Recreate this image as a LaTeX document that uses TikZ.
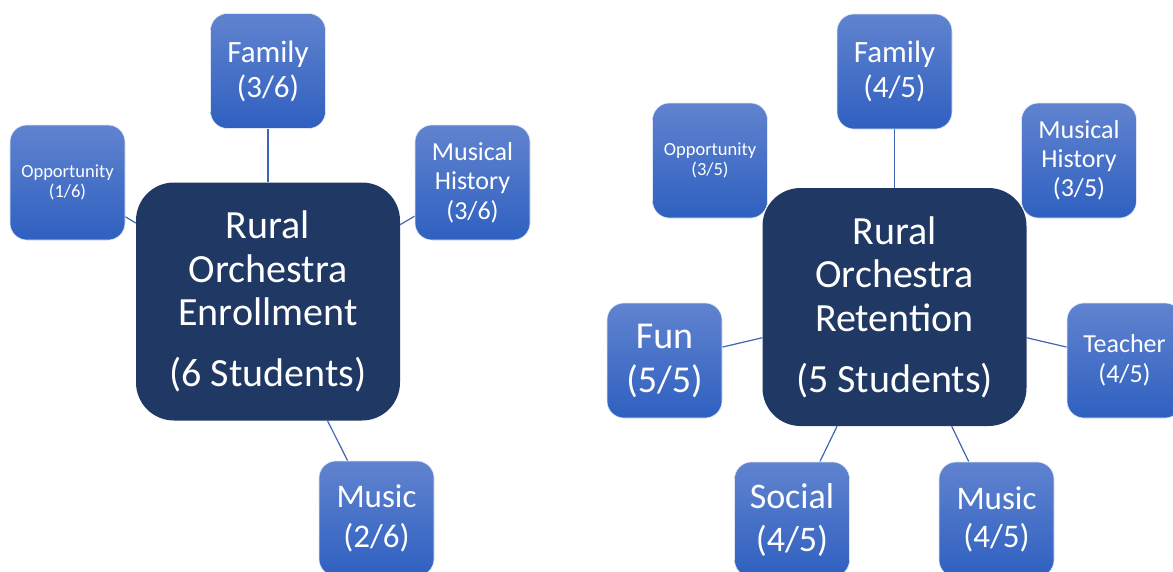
\documentclass[tikz,border=0pt]{standalone}
\usepackage{fontspec}
\setmainfont{Carlito}
\usetikzlibrary{backgrounds}
\definecolor{hubnavy}{RGB}{31,56,100}
\definecolor{leaftop}{RGB}{96,131,207}
\definecolor{leafbot}{RGB}{47,96,192}
\definecolor{linkblue}{RGB}{61,102,180}

\begin{document}
\begin{tikzpicture}[x=1pt,y=-1pt,
    hub/.style={fill=hubnavy,rounded corners=38pt,minimum width=264pt,minimum height=238pt,
        text=white,align=center,inner sep=0pt,font=\fontsize{40}{43.5}\selectfont},
    leaf/.style={top color=leaftop,bottom color=leafbot,draw=white!80!leaftop,line width=0.6pt,
        rounded corners=17pt,minimum width=115pt,minimum height=115pt,
        text=white,align=center,inner sep=0pt},
    link/.style={linkblue,line width=1.2pt}]
    \path[use as bounding box,clip] (0,0) rectangle (1173,571);

    % Enrollment map
    \node[hub] (enroll) at (268,301.5) {Rural\\Orchestra\\Enrollment\\[17.5pt](6 Students)};
    \node[leaf,font=\fontsize{31}{35}\selectfont] (fam1) at (268,71) {Family\\(3/6)};
    \node[leaf,font=\fontsize{18.5}{20}\selectfont] (opp1) at (67.5,182.5) {Opportunity\\(1/6)};
    \node[leaf,font=\fontsize{26}{29.5}\selectfont] (hist1) at (472.5,182.5) {Musical\\History\\(3/6)};
    \node[leaf,font=\fontsize{33}{40}\selectfont] (music1) at (376.5,518.5) {Music\\(2/6)};

    % Retention map
    \node[hub] (reten) at (894.5,307) {Rural\\Orchestra\\Retention\\[17.5pt](5 Students)};
    \node[leaf,font=\fontsize{31}{35}\selectfont] (fam2) at (894.5,71.5) {Family\\(4/5)};
    \node[leaf,font=\fontsize{18.5}{20}\selectfont] (opp2) at (710,160.5) {Opportunity\\(3/5)};
    \node[leaf,font=\fontsize{26}{29}\selectfont] (hist2) at (1079,160.5) {Musical\\History\\(3/5)};
    \node[leaf,font=\fontsize{38}{44}\selectfont] (fun) at (664.5,360.5) {Fun\\(5/5)};
    \node[leaf,font=\fontsize{26}{30}\selectfont] (teach) at (1124.5,360.5) {Teacher\\(4/5)};
    \node[leaf,font=\fontsize{36}{43}\selectfont] (social) at (792,519.5) {Social\\(4/5)};
    \node[leaf,font=\fontsize{33}{38}\selectfont] (music2) at (996.5,519.5) {Music\\(4/5)};

    % Links
    \begin{pgfonlayer}{background}
        \foreach \s in {fam1,opp1,hist1,music1}
            \draw[link] (enroll) -- (\s);
        \foreach \s in {fam2,fun,teach,social,music2}
            \draw[link] (reten) -- (\s);
    \end{pgfonlayer}
\end{tikzpicture}
\end{document}
